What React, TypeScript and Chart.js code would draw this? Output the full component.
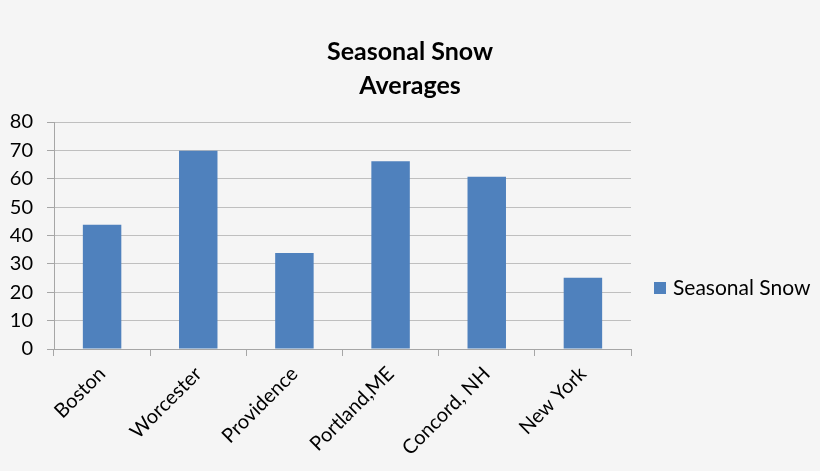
import { useEffect, useRef } from 'react';
import { Chart, registerables } from 'chart.js';

Chart.register(...registerables);

const cities = ['Boston', 'Worcester', 'Providence', 'Portland,ME', 'Concord, NH', 'New York'];
const seasonalSnow = [43.8, 69.9, 33.8, 66.2, 60.7, 25.1];
const yTicks = [0, 10, 20, 30, 40, 50, 60, 70, 80];

const FONT = 'Lato, "Open Sans", sans-serif';

// small legend drawn to the right of the plot, like the Excel original
const sideLegend = {
  id: 'sideLegend',
  afterDraw(chart: any) {
    const { ctx, chartArea } = chart;
    const ds = chart.data.datasets[0];
    const x = chartArea.right + 23;
    const y = 288;
    ctx.save();
    ctx.fillStyle = ds.backgroundColor;
    ctx.fillRect(x, y - 6, 12, 12);
    ctx.fillStyle = '#000';
    ctx.font = `21px ${FONT}`;
    ctx.textBaseline = 'middle';
    ctx.fillText(ds.label, x + 19, y);
    ctx.restore();
  },
};

const App = () => {
  const canvasRef = useRef<HTMLCanvasElement>(null);

  useEffect(() => {
    let chart: Chart | undefined;
    if (canvasRef.current) {
      chart = new Chart(canvasRef.current, {
        type: 'bar',
        data: {
          labels: cities,
          datasets: [
            {
              label: 'Seasonal Snow',
              data: seasonalSnow,
              backgroundColor: '#4f81bd',
              barPercentage: 0.4,
              categoryPercentage: 1,
            },
          ],
        },
        options: {
          animation: false,
          responsive: true,
          maintainAspectRatio: false,
          layout: { padding: 0 },
          plugins: {
            legend: { display: false },
            tooltip: { enabled: false },
            title: {
              display: true,
              text: ['Seasonal Snow', 'Averages'],
              color: '#000',
              font: { family: FONT, size: 25, weight: 'bold', lineHeight: 34 / 25 },
              padding: { top: 35, bottom: 19 },
            },
          },
          scales: {
            x: {
              afterFit: (s: any) => {
                s.height = 122;
              },
              grid: {
                offset: true,
                drawOnChartArea: false,
                drawTicks: true,
                tickLength: 7,
                tickColor: '#a6a6a6',
              },
              border: { color: '#a6a6a6' },
              ticks: {
                color: '#000',
                font: { family: FONT, size: 20 },
                minRotation: 45,
                maxRotation: 45,
                autoSkip: false,
                padding: 6,
              },
            },
            y: {
              min: 0,
              max: 80,
              afterFit: (s: any) => {
                s.width = 54;
              },
              afterBuildTicks: (s: any) => {
                s.ticks = yTicks.map((v) => ({ value: v }));
              },
              grid: { color: '#bfbfbf', tickColor: '#a6a6a6', tickLength: 7 },
              border: { color: '#a6a6a6' },
              ticks: {
                color: '#000',
                font: { family: FONT, size: 20 },
                padding: 14,
              },
            },
            // empty right-hand box that keeps room for the legend
            legendSpace: {
              type: 'linear',
              position: 'right',
              afterFit: (s: any) => {
                s.width = 189;
              },
              grid: { display: false },
              border: { display: false },
              ticks: { display: false },
            },
          },
        },
        plugins: [sideLegend],
      });
    }
    return () => {
      chart?.destroy();
    };
  }, []);

  return (
    <div
      style={{
        position: 'absolute',
        left: 0,
        top: 0,
        width: 820,
        height: 471,
        background: '#f5f5f5',
      }}
    >
      <canvas ref={canvasRef}></canvas>
    </div>
  );
};

export default App;
